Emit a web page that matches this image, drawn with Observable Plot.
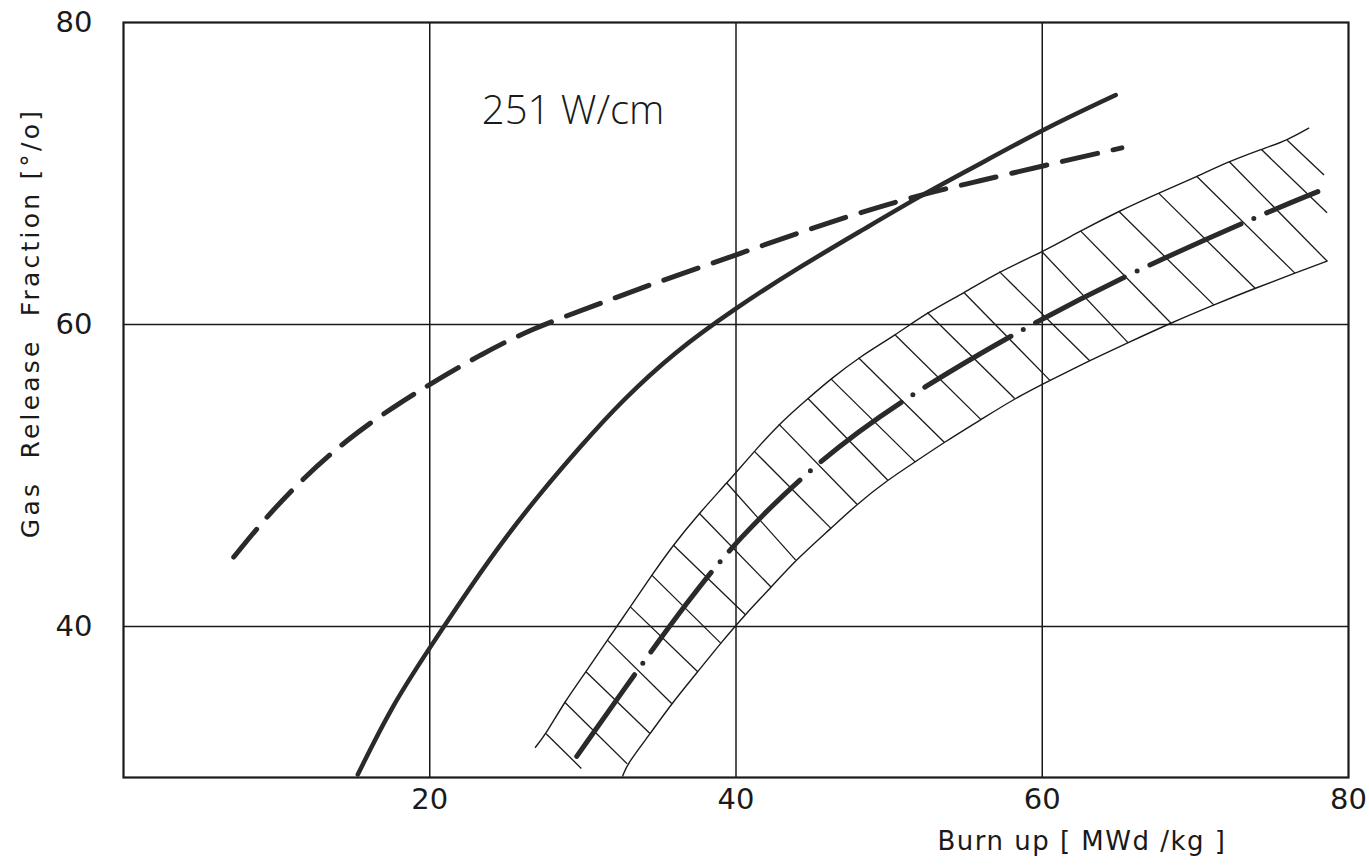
<!DOCTYPE html>
<html>
<head>
<meta charset="utf-8">
<script src="https://cdn.jsdelivr.net/npm/d3@7"></script>
<script src="https://cdn.jsdelivr.net/npm/@observablehq/plot@0.6"></script>
<style>
  html, body { margin: 0; padding: 0; background: #fff; }
  #chart svg { display: block; }
</style>
</head>
<body>
<div id="chart"></div>
<script>
// ---- data ----
const xTicks = [20, 40, 60, 80];
const yTicks = [40, 60, 80];
const xGrid = [20, 40, 60];
const yGrid = [40, 60];

// solid curve
const solidX = [15.3, 17.5, 20.0, 22.9, 25.1, 27.2, 29.9, 32.5, 36.0, 40.0, 43.8, 48.5, 52.0, 55.5, 60.0, 64.8];
const solidY = [30.2, 34.7, 38.6, 43.0, 46.1, 48.8, 52.0, 54.9, 58.2, 61.1, 63.6, 66.4, 68.5, 70.4, 72.9, 75.2];

// dashed curve
const dashX = [7.2, 9.2, 11.6, 14.6, 17.7, 20.1, 23.3, 26.6, 30.9, 34.0, 40.0, 46.1, 52.0, 55.9, 60.0, 65.2];
const dashY = [44.6, 47.1, 49.7, 52.4, 54.6, 56.1, 58.0, 59.7, 61.3, 62.5, 64.6, 66.8, 68.6, 69.5, 70.5, 71.7];

// dash-dot centre line of the band
const centerX = [29.6, 33.7, 36.8, 40.0, 45.3, 50.5, 58.1, 65.5, 73.9, 78.0];
const centerY = [31.4, 37.3, 41.6, 45.7, 50.9, 54.8, 59.4, 63.3, 67.1, 68.8];

// band upper boundary
const upperX = [26.9, 27.6, 28.8, 30.2, 31.6, 33.1, 34.5, 35.9, 37.6, 39.4, 41.2, 42.8, 44.7, 46.2, 48.0, 50.4, 52.5, 54.9, 57.2, 60.0, 62.5, 65.0, 67.6, 70.1, 72.2, 74.3, 76.0, 77.4];
const upperY = [32.0, 32.9, 35.0, 37.0, 39.1, 41.3, 43.4, 45.4, 47.5, 49.5, 51.6, 53.4, 55.1, 56.4, 57.8, 59.3, 60.8, 62.1, 63.5, 64.8, 66.2, 67.5, 68.7, 69.8, 70.8, 71.6, 72.2, 73.0];

// band lower boundary
const lowerX = [32.6, 32.9, 34.4, 35.8, 37.5, 39.0, 40.6, 42.3, 43.9, 46.2, 47.9, 49.9, 51.7, 53.6, 56.0, 58.2, 60.5, 63.1, 65.6, 68.4, 71.2, 73.9, 76.5, 78.6];
const lowerY = [30.1, 30.9, 32.9, 34.9, 37.0, 38.9, 40.8, 42.6, 44.4, 46.5, 48.1, 49.7, 50.9, 52.2, 53.7, 55.1, 56.3, 57.6, 58.8, 60.1, 61.3, 62.4, 63.4, 64.2];

// hatch strokes (start on upper edge, end toward lower edge)
const hatchX1 = [27.6, 28.8, 30.2, 31.6, 33.1, 34.5, 35.9, 37.6, 39.4, 41.2, 42.8, 44.7, 46.2, 48.0, 50.4, 52.5, 54.9, 57.2, 60.0, 62.5, 65.0, 67.6, 70.1, 72.2, 74.3, 76.0];
const hatchY1 = [32.9, 35.0, 37.0, 39.1, 41.3, 43.4, 45.4, 47.5, 49.5, 51.6, 53.4, 55.1, 56.4, 57.8, 59.3, 60.8, 62.1, 63.5, 64.8, 66.2, 67.5, 68.7, 69.8, 70.8, 71.6, 72.2];
const hatchX2 = [29.9, 32.9, 34.4, 35.8, 37.5, 39.0, 40.6, 42.3, 43.9, 46.2, 47.9, 49.9, 51.7, 53.6, 56.0, 58.2, 60.5, 63.1, 65.6, 68.4, 71.2, 73.9, 76.5, 78.6, 78.6, 78.4];
const hatchY2 = [30.6, 30.9, 32.9, 34.9, 37.0, 38.9, 40.8, 42.6, 44.4, 46.5, 48.1, 49.7, 50.9, 52.2, 53.7, 55.1, 56.3, 57.6, 58.8, 60.1, 61.3, 62.4, 63.4, 64.2, 67.4, 69.9];

const annotation = ["251 W/cm"];
const annX = [23.4];
const annY = [73.3];
const xLabel = "Burn up [ MWd /kg ]";
const yLabel = "Gas  Release  Fraction [°/o]";

// ---- build tables ----
const zip = (xs, ys) => xs.map((x, i) => ({x, y: ys[i]}));
const solid = zip(solidX, solidY);
const dashed = zip(dashX, dashY);
const center = zip(centerX, centerY);
const upper = zip(upperX, upperY);
const lower = zip(lowerX, lowerY);
const hatch = hatchX1.map((x1, i) => ({x1, y1: hatchY1[i], x2: hatchX2[i], y2: hatchY2[i]}));
const ann = annotation.map((t, i) => ({t, x: annX[i], y: annY[i]}));

const ink = "#1a1a1a";
const thick = "#2a2a2a";
const font = "DejaVu Sans, sans-serif";

const chart = Plot.plot({
  width: 1369,
  height: 868,
  marginLeft: 123,
  marginRight: 21,
  marginTop: 22,
  marginBottom: 91,
  style: {fontFamily: font, color: ink, background: "#fff"},
  x: {domain: [0, 80]},
  y: {domain: [30, 80]},
  marks: [
    Plot.ruleX(xGrid, {stroke: ink, strokeWidth: 1.5}),
    Plot.ruleY(yGrid, {stroke: ink, strokeWidth: 1.5}),
    Plot.frame({stroke: ink, strokeWidth: 2.2}),
    // band
    Plot.line(upper, {x: "x", y: "y", curve: "basis", stroke: ink, strokeWidth: 1.4}),
    Plot.line(lower, {x: "x", y: "y", curve: "basis", stroke: ink, strokeWidth: 1.4}),
    Plot.link(hatch, {x1: "x1", y1: "y1", x2: "x2", y2: "y2", stroke: ink, strokeWidth: 1.3}),
    // curves
    Plot.line(center, {x: "x", y: "y", curve: "basis", stroke: thick, strokeWidth: 5,
      strokeLinecap: "round", strokeDasharray: "100,14,0,14"}),
    Plot.line(dashed, {x: "x", y: "y", curve: "basis", stroke: thick, strokeWidth: 5,
      strokeLinecap: "round", strokeDasharray: "36,16"}),
    Plot.line(solid, {x: "x", y: "y", curve: "basis", stroke: thick, strokeWidth: 4.5,
      strokeLinecap: "round"}),
    // annotation
    Plot.text(ann, {x: "x", y: "y", text: "t", textAnchor: "start", lineAnchor: "bottom",
      fontSize: 40, fontWeight: 300, fill: ink, fontFamily: "Open Sans, sans-serif"}),
    // axes
    Plot.axisX({ticks: xTicks, tickSize: 0, tickPadding: 11, fontSize: 29, label: null, fill: ink}),
    Plot.axisY({ticks: yTicks, tickSize: 0, tickPadding: 31, fontSize: 29, label: null, fill: ink}),
    Plot.text([xLabel], {frameAnchor: "bottom-right", textAnchor: "end", dx: -122, dy: 72,
      fontSize: 26, fill: ink, style: "letter-spacing:1.5px"}),
    Plot.text([yLabel], {frameAnchor: "left", rotate: -90, textAnchor: "middle", lineAnchor: "middle",
      dx: -93, dy: -77, fontSize: 25, fill: ink})
  ]
});
document.getElementById("chart").appendChild(chart);
// letter spacing for the axis titles
chart.querySelectorAll("text").forEach(t => {
  if (t.textContent === yLabel) t.setAttribute("letter-spacing", "3.2");
  if (t.textContent === xLabel) t.setAttribute("letter-spacing", "1.5");
});
</script>
</body>
</html>
